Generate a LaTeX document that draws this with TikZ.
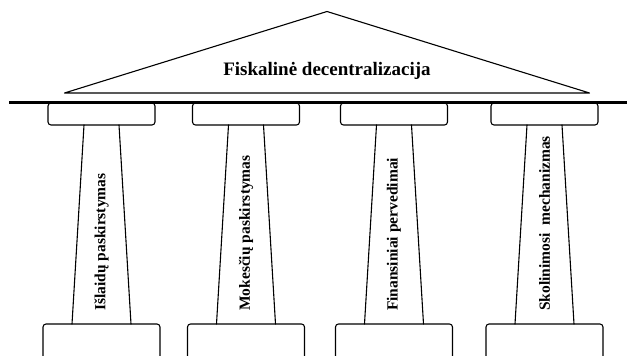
\documentclass[tikz,border=0pt]{standalone}
\usepackage{fontspec}
\setmainfont{Liberation Serif}
\begin{document}
\begin{tikzpicture}[x=1pt,y=-1pt,
  thinline/.style={line width=1.1pt, line join=round, line cap=round},
  roof/.style={font=\fontsize{19}{22}\selectfont\bfseries, inner sep=0pt},
  pillartext/.style={font=\fontsize{15.5}{18}\selectfont\bfseries, inner sep=0pt, rotate=90, anchor=west}]
\useasboundingbox (0,0) rectangle (627,356);
\clip (0,0) rectangle (627,356);
% roof
\coordinate (apex) at (327,11.5);
\coordinate (bl) at (64.5,93);
\coordinate (br) at (589.5,93);
\draw[thinline] (apex) -- (br) -- (bl) -- cycle;
\node[roof, anchor=base] (title) at (327,75) {Fiskalinė decentralizacija};
% beam
\coordinate (beamL) at (9,102);
\coordinate (beamR) at (627,102);
\draw[line width=3pt] (beamL) -- (beamR);
% columns
\foreach \c/\t/\n in {101.5/{Išlaidų paskirstymas}/1,
                      246/{Mokesčių paskirstymas}/2,
                      394/{Finansiniai pervedimai}/3,
                      544.5/{Skolinimosi~~mechanizmas}/4}{
  \draw[thinline, rounded corners=3pt] (\c-53.5,103) rectangle (\c+53.5,125);
  \draw[thinline] (\c-17.5,125) -- (\c-29.5,324) (\c+17.5,125) -- (\c+29.5,324);
  \draw[thinline, rounded corners=3pt] (\c-58.5,362) -- (\c-58.5,324) -- (\c+58.5,324) -- (\c+58.5,362);
  \node[pillartext] (lab\n) at (\c,311) {\t};
}
\end{tikzpicture}
\end{document}
